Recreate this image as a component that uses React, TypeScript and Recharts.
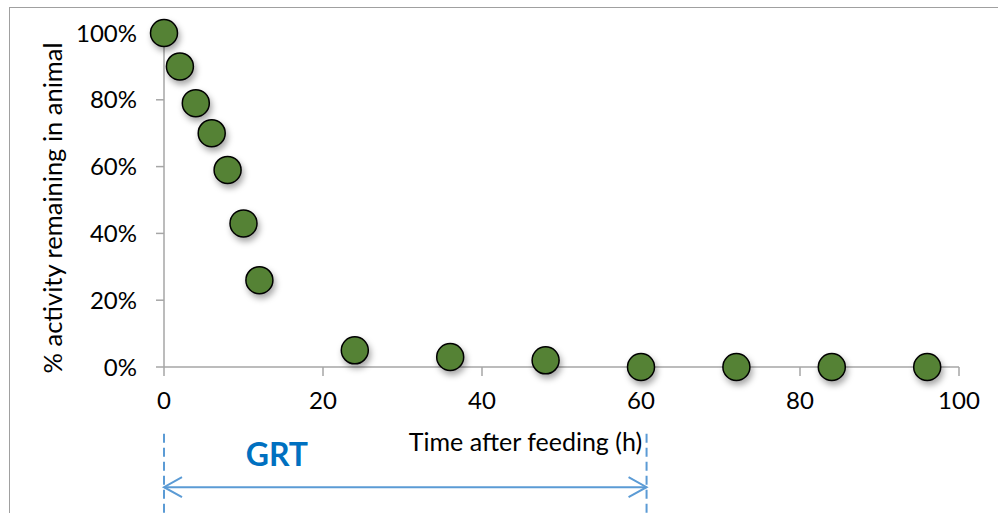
import { ScatterChart, Scatter, XAxis, YAxis, ReferenceLine, ReferenceDot } from 'recharts';

const hours = [0, 2, 4, 6, 8, 10, 12, 24, 36, 48, 60, 72, 84, 96];
const activity = [100, 90, 79, 70, 59, 43, 26, 5, 3, 2, 0, 0, 0, 0];
const xTicks = [0, 20, 40, 60, 80, 100];
const yTicks = [0, 20, 40, 60, 80, 100];

// GRT annotation, in data units
const grtStart = 0;
const grtEnd = 60.7;
const grtArrowY = -36;
const grtDash = [-20, -45];
const grtLabel = { x: 14.2, y: -26 };

const points = hours.map((h, i) => ({ h, a: activity[i] }));

const FONT = 'Lato, "Open Sans", sans-serif';
const AXIS = '#a6a6a6';
const BLUE = '#5B9BD5';

const Marker = (p: any) => (
  <circle cx={p.cx} cy={p.cy} r={13.5} fill="#548235" stroke="#000" strokeWidth={1.5} filter="url(#dotShadow)" />
);

const ArrowShape = (p: any) => {
  const { x1, y1, x2, y2 } = p;
  const h = 18;
  const w = 10;
  return (
    <g stroke={BLUE} strokeWidth={2} fill="none">
      <line x1={x1} y1={y1} x2={x2} y2={y2} />
      <polyline points={`${x1 + h},${y1 - w} ${x1},${y1} ${x1 + h},${y1 + w}`} />
      <polyline points={`${x2 - h},${y2 - w} ${x2},${y2} ${x2 - h},${y2 + w}`} />
    </g>
  );
};

const GrtText = (p: any) => (
  <text x={p.cx} y={p.cy} textAnchor="middle" dominantBaseline="central" fontFamily={FONT} fontWeight={700} fontSize={32} fill="#0070C0">
    GRT
  </text>
);

const YTitle = (props: any) => {
  const vb = props.viewBox;
  const cx = vb.x + 52;
  const cy = vb.y + vb.height / 2 + 8;
  return (
    <text x={cx} y={cy} transform={`rotate(-90 ${cx} ${cy})`} textAnchor="middle" dominantBaseline="central" fontFamily={FONT} fontSize={25.5} fill="#000">
      % activity remaining in animal
    </text>
  );
};

const XTitle = (props: any) => {
  const vb = props.viewBox;
  return (
    <text x={vb.x + vb.width / 2 - 36} y={vb.y + 84} textAnchor="middle" fontFamily={FONT} fontSize={25} fill="#000">
      Time after feeding (h)
    </text>
  );
};

export default function App() {
  return (
    <div style={{ position: 'absolute', left: 0, top: 0, width: 998, height: 513, overflow: 'hidden', background: '#fff' }}>
      <div style={{ position: 'absolute', left: 9, top: 7, width: 1100, height: 600, border: '1.5px solid #a0a0a0' }} />
      <svg width={0} height={0} style={{ position: 'absolute' }}>
        <defs>
          <filter id="dotShadow" x="-50%" y="-50%" width="200%" height="200%">
            <feDropShadow dx={2} dy={4} stdDeviation={3} floodColor="#000" floodOpacity={0.35} />
          </filter>
        </defs>
      </svg>
      <ScatterChart width={998} height={513} margin={{ top: 33, right: 39, left: 0, bottom: 0 }} style={{ position: 'absolute', left: 0, top: 0 }}>
        <XAxis
          type="number"
          dataKey="h"
          domain={[0, 100]}
          ticks={xTicks}
          height={146}
          stroke={AXIS}
          strokeWidth={1.5}
          tickSize={9}
          tickMargin={16}
          tick={{ fill: '#000', fontSize: 24, fontFamily: FONT }}
          label={{ content: XTitle }}
        />
        <YAxis
          type="number"
          dataKey="a"
          domain={[0, 100]}
          ticks={yTicks}
          width={164}
          stroke={AXIS}
          strokeWidth={1.5}
          tickSize={8}
          tickMargin={19}
          tickFormatter={(v: number) => `${v}%`}
          tick={{ fill: '#000', fontSize: 24, fontFamily: FONT }}
          label={{ content: YTitle }}
        />
        <Scatter data={points} shape={Marker} isAnimationActive={false} />
        <ReferenceLine
          segment={[{ x: grtStart, y: grtDash[0] }, { x: grtStart, y: grtDash[1] }]}
          stroke={BLUE}
          strokeWidth={2}
          strokeDasharray="9 5"
          ifOverflow="visible"
        />
        <ReferenceLine
          segment={[{ x: grtEnd, y: grtDash[0] }, { x: grtEnd, y: grtDash[1] }]}
          stroke={BLUE}
          strokeWidth={2}
          strokeDasharray="9 5"
          ifOverflow="visible"
        />
        <ReferenceLine
          segment={[{ x: grtStart, y: grtArrowY }, { x: grtEnd, y: grtArrowY }]}
          shape={ArrowShape}
          ifOverflow="visible"
        />
        <ReferenceDot x={grtLabel.x} y={grtLabel.y} shape={GrtText} ifOverflow="visible" />
      </ScatterChart>
    </div>
  );
}
